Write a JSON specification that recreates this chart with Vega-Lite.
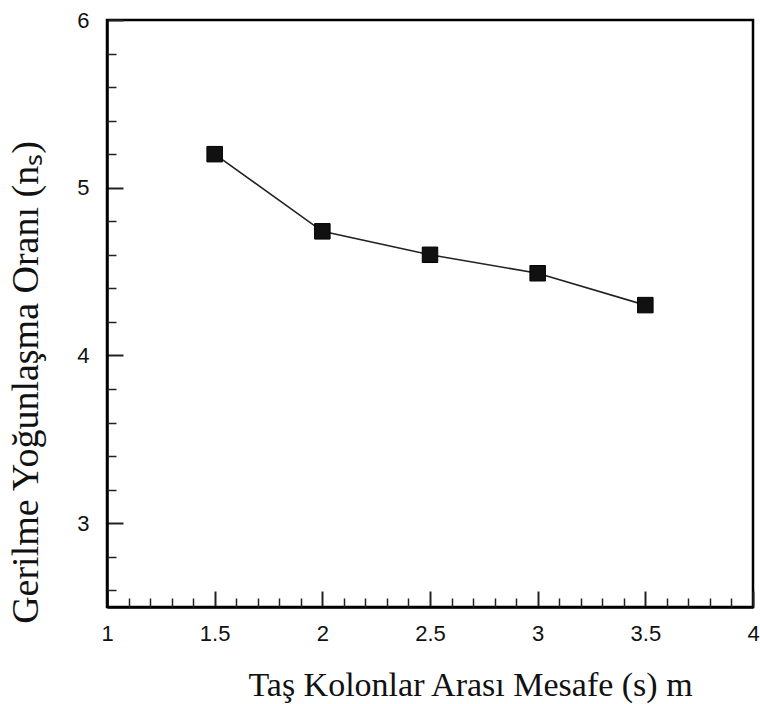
{
  "$schema": "https://vega.github.io/schema/vega-lite/v6.json",
  "width": 646,
  "height": 587,
  "autosize": {"type": "none"},
  "padding": {"left": 107, "top": 20, "right": 7, "bottom": 97},
  "background": "white",
  "config": {
    "view": {"stroke": "black", "strokeWidth": 2.5},
    "axis": {
      "grid": false,
      "labelFont": "Liberation Sans",
      "labelFontSize": 22,
      "labelColor": "#111",
      "titleFont": "Liberation Serif",
      "titleFontWeight": "normal",
      "titleColor": "#111",
      "domainColor": "black",
      "tickColor": "#222"
    }
  },
  "data": {
    "values": [
      {"s": 1.5, "n": 5.2},
      {"s": 2.0, "n": 4.74},
      {"s": 2.5, "n": 4.6},
      {"s": 3.0, "n": 4.49},
      {"s": 3.5, "n": 4.3}
    ]
  },
  "resolve": {"axis": {"x": "independent", "y": "independent"}},
  "layer": [
    {
      "mark": {"type": "line", "color": "#222", "strokeWidth": 1.6},
      "encoding": {
        "x": {
          "field": "s", "type": "quantitative",
          "scale": {"domain": [1, 4], "nice": false, "zero": false},
          "axis": {
            "orient": "bottom",
            "values": [1, 1.5, 2, 2.5, 3, 3.5, 4],
            "format": "~g",
            "tickSize": -16, "tickWidth": 2,
            "domainWidth": 2.5,
            "labelPadding": 32,
            "labelFlush": false,
            "labelFontSize": 22,
            "title": "Taş Kolonlar Arası Mesafe (s) m",
            "titleFontSize": 34,
            "titleAnchor": "start", "titleAlign": "center",
            "titleX": 363, "titleY": 88, "titleBaseline": "alphabetic"
          }
        },
        "y": {
          "field": "n", "type": "quantitative",
          "scale": {"domain": [2.5, 6], "nice": false, "zero": false},
          "axis": {
            "orient": "left",
            "values": [3, 4, 5, 6],
            "format": "~g",
            "tickSize": -16, "tickWidth": 2,
            "domainWidth": 2.5,
            "labelPadding": 34,
            "labelFlush": false,
            "labelFontSize": 22,
            "title": "Gerilme Yoğunlaşma Oranı (nₛ)",
            "titleFontSize": 38,
            "titleAnchor": "start", "titleAlign": "center", "titleAngle": -90,
            "titleX": -70, "titleY": 362, "titleBaseline": "alphabetic"
          }
        }
      }
    },
    {
      "mark": {"type": "point", "shape": "square", "filled": true, "size": 240, "fill": "#111", "stroke": "#000", "strokeWidth": 1, "opacity": 1},
      "encoding": {
        "x": {
          "field": "s", "type": "quantitative",
          "axis": {
            "orient": "bottom",
            "values": [1.1, 1.2, 1.3, 1.4, 1.6, 1.7, 1.8, 1.9, 2.1, 2.2, 2.3, 2.4, 2.6, 2.7, 2.8, 2.9, 3.1, 3.2, 3.3, 3.4, 3.6, 3.7, 3.8, 3.9],
            "tickSize": -9, "tickWidth": 1.5,
            "domain": false, "labels": false, "title": null
          }
        },
        "y": {
          "field": "n", "type": "quantitative",
          "axis": {
            "orient": "left",
            "values": [2.6, 2.8, 3.2, 3.4, 3.6, 3.8, 4.2, 4.4, 4.6, 4.8, 5.2, 5.4, 5.6, 5.8],
            "tickSize": -9, "tickWidth": 1.5,
            "domain": false, "labels": false, "title": null
          }
        }
      }
    }
  ]
}
